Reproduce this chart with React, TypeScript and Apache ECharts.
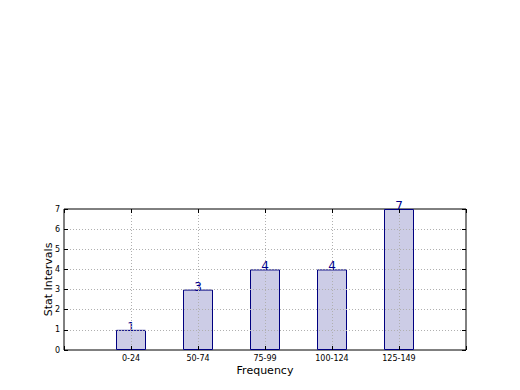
import React, { useEffect, useRef } from "react";
import * as echarts from "echarts";

const categories = ["0-24", "50-74", "75-99", "100-124", "125-149"];
const counts = [1, 3, 4, 4, 7];
const yTicks = [0, 1, 2, 3, 4, 5, 6, 7];

export default function App() {
  const ref = useRef<HTMLDivElement>(null);
  useEffect(() => {
    document.body.style.margin = "0";
    const chart = echarts.init(ref.current!, null, { renderer: "svg" });
    const font = "DejaVu Sans";
    const gridLine = { show: true, lineStyle: { color: "#b0b0b0", type: [1, 2] as any, width: 1 } };
    const tick = { show: true, inside: true, length: 4, lineStyle: { color: "#000" } };
    chart.setOption({
      animation: false,
      textStyle: { fontFamily: font },
      grid: {
        left: 64,
        top: 209,
        width: 402,
        height: 141,
        show: true,
        borderColor: "#000",
        borderWidth: 1,
        backgroundColor: "transparent",
      },
      xAxis: [
        {
          type: "value",
          min: -1,
          max: 5,
          interval: 1,
          z: 3,
          name: "Frequency",
          nameLocation: "middle",
          nameGap: 15,
          nameTextStyle: { fontSize: 11, color: "#000", fontFamily: font },
          axisLine: { show: false, onZero: false },
          axisTick: tick,
          axisLabel: {
            fontSize: 8,
            color: "#000",
            margin: 4,
            formatter: (v: number) => categories[v] ?? "",
          },
          splitLine: { ...gridLine, showMinLine: false, showMaxLine: false },
        },
        {
          type: "value",
          position: "top",
          min: -1,
          max: 5,
          interval: 1,
          z: 3,
          axisLine: { show: false, onZero: false },
          axisTick: tick,
          axisLabel: { show: false },
          splitLine: { show: false },
        },
      ],
      yAxis: [
        {
          type: "value",
          position: "left",
          min: yTicks[0],
          max: yTicks[yTicks.length - 1],
          interval: 1,
          z: 3,
          name: "Stat Intervals",
          nameLocation: "middle",
          nameGap: 10,
          nameMoveOverlap: false,
          nameTextStyle: { fontSize: 11, color: "#000", fontFamily: font },
          axisLine: { show: false, onZero: false },
          axisTick: tick,
          axisLabel: { fontSize: 8, color: "#000", margin: 4 },
          splitLine: { ...gridLine, showMinLine: false, showMaxLine: false },
        },
        {
          type: "value",
          position: "right",
          min: yTicks[0],
          max: yTicks[yTicks.length - 1],
          interval: 1,
          z: 3,
          axisLine: { show: false, onZero: false },
          axisTick: tick,
          axisLabel: { show: false },
          splitLine: { show: false },
        },
      ],
      series: [
        {
          type: "bar",
          xAxisIndex: 0,
          yAxisIndex: 0,
          data: counts.map((c, i) => [i, c]),
          barWidth: 30,
          itemStyle: { color: "#cccce6", borderColor: "#000080", borderWidth: 1 },
          label: {
            show: true,
            position: "top",
            distance: -3,
            color: "#00008b",
            fontSize: 12,
            fontFamily: font,
          },
        },
      ],
    });
    return () => chart.dispose();
  }, []);
  return <div ref={ref} style={{ position: "absolute", left: 0, top: 0, width: 520, height: 390 }} />;
}
